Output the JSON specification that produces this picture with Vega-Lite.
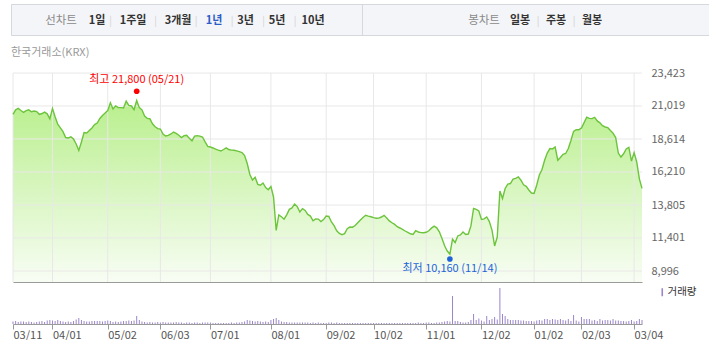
{
  "$schema": "https://vega.github.io/schema/vega-lite/v6.json",
  "background": "#ffffff",
  "padding": {"left": 10, "top": 3, "right": 0, "bottom": 0},
  "spacing": 11,
  "config": {
    "view": {"stroke": null},
    "font": "Noto Sans CJK KR"
  },
  "datasets": {
    "toolbar": [
      {"key": "선차트", "label": "선차트", "kind": "head"},
      {"key": "1일", "label": "1일", "kind": "item"},
      {"key": "s1", "label": "|", "kind": "sep"},
      {"key": "1주일", "label": "1주일", "kind": "item"},
      {"key": "s2", "label": "|", "kind": "sep"},
      {"key": "3개월", "label": "3개월", "kind": "item"},
      {"key": "s3", "label": "|", "kind": "sep"},
      {"key": "1년", "label": "1년", "kind": "active"},
      {"key": "s4", "label": "|", "kind": "sep"},
      {"key": "3년", "label": "3년", "kind": "item"},
      {"key": "s5", "label": "|", "kind": "sep"},
      {"key": "5년", "label": "5년", "kind": "item"},
      {"key": "s6", "label": "|", "kind": "sep"},
      {"key": "10년", "label": "10년", "kind": "item"},
      {"key": "div", "label": "", "kind": "div"},
      {"key": "봉차트", "label": "봉차트", "kind": "head"},
      {"key": "일봉", "label": "일봉", "kind": "item"},
      {"key": "s7", "label": "|", "kind": "sep"},
      {"key": "주봉", "label": "주봉", "kind": "item"},
      {"key": "s8", "label": "|", "kind": "sep"},
      {"key": "월봉", "label": "월봉", "kind": "item"}
    ],
    "xticks": [
      {"date": "2024-03-11"}, {"date": "2024-04-01"}, {"date": "2024-05-02"}, {"date": "2024-06-03"},
      {"date": "2024-07-01"}, {"date": "2024-08-01"}, {"date": "2024-09-02"}, {"date": "2024-10-02"},
      {"date": "2024-11-01"}, {"date": "2024-12-02"}, {"date": "2025-01-02"}, {"date": "2025-02-03"},
      {"date": "2025-03-04"}
    ],
    "yticks": [
      {"v": 8996}, {"v": 11401}, {"v": 13805}, {"v": 16210}, {"v": 18614}, {"v": 21019}, {"v": 23423}
    ],
    "extremes": [
      {"date": "2024-05-21", "value": 21800, "label": "최고 21,800 (05/21)", "kind": "high"},
      {"date": "2024-11-14", "value": 10160, "label": "최저 10,160 (11/14)", "kind": "low"}
    ],
    "price": [
      {"date": "2024-03-11", "close": 20410, "volume": 250000},
      {"date": "2024-03-12", "close": 20740, "volume": 300000},
      {"date": "2024-03-13", "close": 20840, "volume": 200000},
      {"date": "2024-03-14", "close": 20690, "volume": 250000},
      {"date": "2024-03-15", "close": 20550, "volume": 250000},
      {"date": "2024-03-18", "close": 20680, "volume": 200000},
      {"date": "2024-03-19", "close": 20740, "volume": 250000},
      {"date": "2024-03-20", "close": 20600, "volume": 200000},
      {"date": "2024-03-21", "close": 20650, "volume": 150000},
      {"date": "2024-03-22", "close": 20610, "volume": 200000},
      {"date": "2024-03-25", "close": 20410, "volume": 250000},
      {"date": "2024-03-26", "close": 20470, "volume": 300000},
      {"date": "2024-03-27", "close": 20570, "volume": 200000},
      {"date": "2024-03-28", "close": 20450, "volume": 350000},
      {"date": "2024-03-29", "close": 20090, "volume": 400000},
      {"date": "2024-04-01", "close": 20840, "volume": 350000},
      {"date": "2024-04-02", "close": 20230, "volume": 300000},
      {"date": "2024-04-03", "close": 19690, "volume": 400000},
      {"date": "2024-04-04", "close": 19430, "volume": 300000},
      {"date": "2024-04-05", "close": 19150, "volume": 250000},
      {"date": "2024-04-08", "close": 18720, "volume": 200000},
      {"date": "2024-04-09", "close": 18690, "volume": 250000},
      {"date": "2024-04-11", "close": 18770, "volume": 200000},
      {"date": "2024-04-12", "close": 18610, "volume": 300000},
      {"date": "2024-04-15", "close": 18250, "volume": 450000},
      {"date": "2024-04-16", "close": 17780, "volume": 600000},
      {"date": "2024-04-17", "close": 18400, "volume": 400000},
      {"date": "2024-04-18", "close": 19090, "volume": 300000},
      {"date": "2024-04-19", "close": 19050, "volume": 250000},
      {"date": "2024-04-22", "close": 19230, "volume": 250000},
      {"date": "2024-04-23", "close": 19420, "volume": 300000},
      {"date": "2024-04-24", "close": 19660, "volume": 300000},
      {"date": "2024-04-25", "close": 19780, "volume": 300000},
      {"date": "2024-04-26", "close": 20110, "volume": 300000},
      {"date": "2024-04-29", "close": 20330, "volume": 250000},
      {"date": "2024-04-30", "close": 20510, "volume": 300000},
      {"date": "2024-05-02", "close": 20680, "volume": 350000},
      {"date": "2024-05-03", "close": 21250, "volume": 300000},
      {"date": "2024-05-07", "close": 20800, "volume": 200000},
      {"date": "2024-05-08", "close": 21030, "volume": 250000},
      {"date": "2024-05-09", "close": 20900, "volume": 200000},
      {"date": "2024-05-10", "close": 20900, "volume": 250000},
      {"date": "2024-05-13", "close": 20880, "volume": 300000},
      {"date": "2024-05-14", "close": 21370, "volume": 300000},
      {"date": "2024-05-16", "close": 21060, "volume": 350000},
      {"date": "2024-05-17", "close": 21020, "volume": 300000},
      {"date": "2024-05-20", "close": 20750, "volume": 350000},
      {"date": "2024-05-21", "close": 21420, "volume": 800000},
      {"date": "2024-05-22", "close": 20900, "volume": 400000},
      {"date": "2024-05-23", "close": 20740, "volume": 250000},
      {"date": "2024-05-24", "close": 20280, "volume": 200000},
      {"date": "2024-05-27", "close": 20120, "volume": 150000},
      {"date": "2024-05-28", "close": 20090, "volume": 200000},
      {"date": "2024-05-29", "close": 19720, "volume": 150000},
      {"date": "2024-05-30", "close": 19510, "volume": 150000},
      {"date": "2024-05-31", "close": 19370, "volume": 200000},
      {"date": "2024-06-03", "close": 19340, "volume": 150000},
      {"date": "2024-06-04", "close": 18980, "volume": 200000},
      {"date": "2024-06-05", "close": 18830, "volume": 150000},
      {"date": "2024-06-07", "close": 18880, "volume": 150000},
      {"date": "2024-06-10", "close": 18980, "volume": 150000},
      {"date": "2024-06-11", "close": 19120, "volume": 150000},
      {"date": "2024-06-12", "close": 19020, "volume": 200000},
      {"date": "2024-06-13", "close": 18890, "volume": 150000},
      {"date": "2024-06-14", "close": 18720, "volume": 150000},
      {"date": "2024-06-17", "close": 18860, "volume": 100000},
      {"date": "2024-06-18", "close": 18890, "volume": 150000},
      {"date": "2024-06-19", "close": 18660, "volume": 150000},
      {"date": "2024-06-20", "close": 18480, "volume": 100000},
      {"date": "2024-06-21", "close": 18820, "volume": 150000},
      {"date": "2024-06-24", "close": 18860, "volume": 150000},
      {"date": "2024-06-25", "close": 18820, "volume": 100000},
      {"date": "2024-06-26", "close": 18760, "volume": 150000},
      {"date": "2024-06-27", "close": 18400, "volume": 150000},
      {"date": "2024-06-28", "close": 18080, "volume": 150000},
      {"date": "2024-07-01", "close": 18030, "volume": 150000},
      {"date": "2024-07-02", "close": 17960, "volume": 100000},
      {"date": "2024-07-03", "close": 17870, "volume": 100000},
      {"date": "2024-07-04", "close": 17800, "volume": 100000},
      {"date": "2024-07-05", "close": 17740, "volume": 100000},
      {"date": "2024-07-08", "close": 17850, "volume": 100000},
      {"date": "2024-07-09", "close": 17970, "volume": 100000},
      {"date": "2024-07-10", "close": 17850, "volume": 100000},
      {"date": "2024-07-11", "close": 17800, "volume": 150000},
      {"date": "2024-07-12", "close": 17790, "volume": 100000},
      {"date": "2024-07-15", "close": 17750, "volume": 150000},
      {"date": "2024-07-16", "close": 17690, "volume": 150000},
      {"date": "2024-07-17", "close": 17630, "volume": 200000},
      {"date": "2024-07-18", "close": 17410, "volume": 250000},
      {"date": "2024-07-19", "close": 16830, "volume": 400000},
      {"date": "2024-07-22", "close": 16030, "volume": 350000},
      {"date": "2024-07-23", "close": 15630, "volume": 300000},
      {"date": "2024-07-24", "close": 15830, "volume": 250000},
      {"date": "2024-07-25", "close": 15310, "volume": 300000},
      {"date": "2024-07-26", "close": 15250, "volume": 250000},
      {"date": "2024-07-29", "close": 15410, "volume": 200000},
      {"date": "2024-07-30", "close": 15080, "volume": 250000},
      {"date": "2024-07-31", "close": 14920, "volume": 200000},
      {"date": "2024-08-01", "close": 15150, "volume": 400000},
      {"date": "2024-08-02", "close": 14390, "volume": 500000},
      {"date": "2024-08-05", "close": 11960, "volume": 600000},
      {"date": "2024-08-06", "close": 13080, "volume": 400000},
      {"date": "2024-08-07", "close": 12950, "volume": 250000},
      {"date": "2024-08-08", "close": 12770, "volume": 200000},
      {"date": "2024-08-09", "close": 13090, "volume": 200000},
      {"date": "2024-08-12", "close": 13490, "volume": 150000},
      {"date": "2024-08-13", "close": 13590, "volume": 150000},
      {"date": "2024-08-14", "close": 13880, "volume": 150000},
      {"date": "2024-08-16", "close": 13690, "volume": 150000},
      {"date": "2024-08-19", "close": 13300, "volume": 150000},
      {"date": "2024-08-20", "close": 13540, "volume": 150000},
      {"date": "2024-08-21", "close": 13410, "volume": 150000},
      {"date": "2024-08-22", "close": 13120, "volume": 150000},
      {"date": "2024-08-23", "close": 13000, "volume": 100000},
      {"date": "2024-08-26", "close": 12660, "volume": 150000},
      {"date": "2024-08-27", "close": 12790, "volume": 100000},
      {"date": "2024-08-28", "close": 12780, "volume": 150000},
      {"date": "2024-08-29", "close": 12600, "volume": 100000},
      {"date": "2024-08-30", "close": 12740, "volume": 100000},
      {"date": "2024-09-02", "close": 13000, "volume": 100000},
      {"date": "2024-09-03", "close": 12970, "volume": 150000},
      {"date": "2024-09-04", "close": 12570, "volume": 150000},
      {"date": "2024-09-05", "close": 12300, "volume": 100000},
      {"date": "2024-09-06", "close": 11930, "volume": 150000},
      {"date": "2024-09-09", "close": 11730, "volume": 100000},
      {"date": "2024-09-10", "close": 11640, "volume": 100000},
      {"date": "2024-09-11", "close": 11720, "volume": 100000},
      {"date": "2024-09-12", "close": 12080, "volume": 100000},
      {"date": "2024-09-13", "close": 12200, "volume": 100000},
      {"date": "2024-09-19", "close": 12190, "volume": 100000},
      {"date": "2024-09-20", "close": 12310, "volume": 100000},
      {"date": "2024-09-23", "close": 12510, "volume": 100000},
      {"date": "2024-09-24", "close": 12710, "volume": 100000},
      {"date": "2024-09-25", "close": 12900, "volume": 100000},
      {"date": "2024-09-26", "close": 13060, "volume": 100000},
      {"date": "2024-09-27", "close": 13000, "volume": 100000},
      {"date": "2024-09-30", "close": 12950, "volume": 100000},
      {"date": "2024-10-02", "close": 12880, "volume": 100000},
      {"date": "2024-10-04", "close": 12840, "volume": 100000},
      {"date": "2024-10-07", "close": 12850, "volume": 100000},
      {"date": "2024-10-08", "close": 12930, "volume": 100000},
      {"date": "2024-10-10", "close": 13050, "volume": 100000},
      {"date": "2024-10-11", "close": 12860, "volume": 100000},
      {"date": "2024-10-14", "close": 12650, "volume": 100000},
      {"date": "2024-10-15", "close": 12510, "volume": 100000},
      {"date": "2024-10-16", "close": 12390, "volume": 100000},
      {"date": "2024-10-17", "close": 12220, "volume": 100000},
      {"date": "2024-10-18", "close": 12130, "volume": 100000},
      {"date": "2024-10-21", "close": 12030, "volume": 100000},
      {"date": "2024-10-22", "close": 11910, "volume": 100000},
      {"date": "2024-10-23", "close": 11810, "volume": 100000},
      {"date": "2024-10-24", "close": 11710, "volume": 100000},
      {"date": "2024-10-25", "close": 11660, "volume": 100000},
      {"date": "2024-10-28", "close": 11930, "volume": 100000},
      {"date": "2024-10-29", "close": 11840, "volume": 150000},
      {"date": "2024-10-30", "close": 11790, "volume": 100000},
      {"date": "2024-10-31", "close": 11780, "volume": 100000},
      {"date": "2024-11-01", "close": 11820, "volume": 150000},
      {"date": "2024-11-04", "close": 11930, "volume": 150000},
      {"date": "2024-11-05", "close": 12120, "volume": 100000},
      {"date": "2024-11-06", "close": 12260, "volume": 100000},
      {"date": "2024-11-07", "close": 12140, "volume": 150000},
      {"date": "2024-11-08", "close": 11850, "volume": 150000},
      {"date": "2024-11-11", "close": 11370, "volume": 200000},
      {"date": "2024-11-12", "close": 10830, "volume": 250000},
      {"date": "2024-11-13", "close": 10450, "volume": 300000},
      {"date": "2024-11-14", "close": 10230, "volume": 250000},
      {"date": "2024-11-15", "close": 11310, "volume": 2800000},
      {"date": "2024-11-18", "close": 11070, "volume": 300000},
      {"date": "2024-11-19", "close": 11550, "volume": 300000},
      {"date": "2024-11-20", "close": 11620, "volume": 200000},
      {"date": "2024-11-21", "close": 11840, "volume": 150000},
      {"date": "2024-11-22", "close": 11660, "volume": 150000},
      {"date": "2024-11-25", "close": 11690, "volume": 200000},
      {"date": "2024-11-26", "close": 12280, "volume": 400000},
      {"date": "2024-11-27", "close": 13550, "volume": 1000000},
      {"date": "2024-11-28", "close": 13480, "volume": 400000},
      {"date": "2024-11-29", "close": 13370, "volume": 550000},
      {"date": "2024-12-02", "close": 12760, "volume": 350000},
      {"date": "2024-12-03", "close": 12790, "volume": 250000},
      {"date": "2024-12-04", "close": 12930, "volume": 800000},
      {"date": "2024-12-05", "close": 12600, "volume": 400000},
      {"date": "2024-12-06", "close": 11980, "volume": 500000},
      {"date": "2024-12-09", "close": 10820, "volume": 700000},
      {"date": "2024-12-10", "close": 11470, "volume": 450000},
      {"date": "2024-12-11", "close": 14830, "volume": 3600000},
      {"date": "2024-12-12", "close": 14280, "volume": 1000000},
      {"date": "2024-12-13", "close": 15010, "volume": 800000},
      {"date": "2024-12-16", "close": 15330, "volume": 500000},
      {"date": "2024-12-17", "close": 15370, "volume": 400000},
      {"date": "2024-12-18", "close": 15690, "volume": 400000},
      {"date": "2024-12-19", "close": 15740, "volume": 400000},
      {"date": "2024-12-20", "close": 15850, "volume": 400000},
      {"date": "2024-12-23", "close": 15610, "volume": 350000},
      {"date": "2024-12-24", "close": 15280, "volume": 350000},
      {"date": "2024-12-26", "close": 15170, "volume": 300000},
      {"date": "2024-12-27", "close": 14900, "volume": 300000},
      {"date": "2024-12-30", "close": 14680, "volume": 300000},
      {"date": "2025-01-02", "close": 14640, "volume": 250000},
      {"date": "2025-01-03", "close": 15260, "volume": 350000},
      {"date": "2025-01-06", "close": 15990, "volume": 400000},
      {"date": "2025-01-07", "close": 16390, "volume": 350000},
      {"date": "2025-01-08", "close": 17070, "volume": 500000},
      {"date": "2025-01-09", "close": 17590, "volume": 500000},
      {"date": "2025-01-10", "close": 17920, "volume": 400000},
      {"date": "2025-01-13", "close": 17890, "volume": 500000},
      {"date": "2025-01-14", "close": 18030, "volume": 450000},
      {"date": "2025-01-15", "close": 17070, "volume": 400000},
      {"date": "2025-01-16", "close": 17270, "volume": 500000},
      {"date": "2025-01-17", "close": 17500, "volume": 400000},
      {"date": "2025-01-20", "close": 17560, "volume": 350000},
      {"date": "2025-01-21", "close": 17920, "volume": 500000},
      {"date": "2025-01-22", "close": 18500, "volume": 300000},
      {"date": "2025-01-23", "close": 19170, "volume": 900000},
      {"date": "2025-01-24", "close": 19300, "volume": 350000},
      {"date": "2025-01-31", "close": 19290, "volume": 250000},
      {"date": "2025-02-03", "close": 19420, "volume": 700000},
      {"date": "2025-02-04", "close": 19810, "volume": 500000},
      {"date": "2025-02-05", "close": 20200, "volume": 500000},
      {"date": "2025-02-06", "close": 20120, "volume": 500000},
      {"date": "2025-02-07", "close": 20100, "volume": 350000},
      {"date": "2025-02-10", "close": 20190, "volume": 400000},
      {"date": "2025-02-11", "close": 19930, "volume": 300000},
      {"date": "2025-02-12", "close": 19790, "volume": 500000},
      {"date": "2025-02-13", "close": 19580, "volume": 350000},
      {"date": "2025-02-14", "close": 19490, "volume": 400000},
      {"date": "2025-02-17", "close": 19440, "volume": 400000},
      {"date": "2025-02-18", "close": 19230, "volume": 350000},
      {"date": "2025-02-19", "close": 19040, "volume": 500000},
      {"date": "2025-02-20", "close": 18720, "volume": 350000},
      {"date": "2025-02-21", "close": 17590, "volume": 350000},
      {"date": "2025-02-24", "close": 17300, "volume": 300000},
      {"date": "2025-02-25", "close": 17540, "volume": 300000},
      {"date": "2025-02-26", "close": 17890, "volume": 250000},
      {"date": "2025-02-27", "close": 18000, "volume": 300000},
      {"date": "2025-02-28", "close": 17010, "volume": 400000},
      {"date": "2025-03-04", "close": 17620, "volume": 250000},
      {"date": "2025-03-05", "close": 16940, "volume": 300000},
      {"date": "2025-03-06", "close": 15710, "volume": 500000},
      {"date": "2025-03-07", "close": 15020, "volume": 400000}
    ]
  },
  "vconcat": [
    {
      "width": 698,
      "height": 31,
      "view": {"fill": "#f4f5f8", "stroke": "#d5d8dd"},
      "data": {"name": "toolbar"},
      "encoding": {
        "x": {
          "field": "key",
          "type": "nominal",
          "axis": null,
          "scale": {
            "type": "point",
            "padding": 0,
            "range": [50, 581],
            "domain": ["선차트","q1","q2","q3","q4","q5","q6","q7","1일","q9","q10","s1","q12","q13","q14","q15","1주일","q17","q18","q19","q20","s2","q22","q23","q24","q25","3개월","q27","q28","q29","s3","q31","q32","q33","1년","q35","q36","q37","s4","q39","q40","3년","q42","q43","q44","s5","q46","q47","5년","q49","q50","q51","s6","q53","q54","q55","10년","q57","q58","q59","q60","q61","q62","q63","q64","q65","q66","div","q68","q69","q70","q71","q72","q73","q74","q75","q76","q77","q78","q79","q80","q81","q82","q83","q84","q85","q86","q87","q88","q89","q90","q91","q92","q93","봉차트","q95","q96","q97","q98","q99","q100","q101","일봉","q103","q104","q105","s7","q107","q108","q109","주봉","q111","q112","q113","s8","q115","q116","q117","월봉"]
          }
        }
      },
      "layer": [
        {
          "transform": [{"filter": "datum.kind === 'div'"}],
          "mark": {"type": "rule", "color": "#d5d8dd"},
          "encoding": {}
        },
        {
          "transform": [{"filter": "datum.kind === 'head'"}],
          "mark": {"type": "text", "fontSize": 11.5, "color": "#8a8a8a", "dy": 1},
          "encoding": {"text": {"field": "label"}}
        },
        {
          "transform": [{"filter": "datum.kind === 'item'"}],
          "mark": {"type": "text", "fontSize": 11, "fontWeight": "bold", "color": "#333333", "dy": 1},
          "encoding": {"text": {"field": "label"}}
        },
        {
          "transform": [{"filter": "datum.kind === 'active'"}],
          "mark": {"type": "text", "fontSize": 11, "fontWeight": "bold", "color": "#2d5ec8", "dy": 1},
          "encoding": {"text": {"field": "label"}}
        },
        {
          "transform": [{"filter": "datum.kind === 'sep'"}],
          "mark": {"type": "text", "fontSize": 10, "color": "#d2d2d2", "dy": 1},
          "encoding": {"text": {"field": "label"}}
        }
      ]
    },
    {
      "width": 698,
      "height": 251,
      "title": {"text": "한국거래소(KRX)", "anchor": "start", "frame": "group", "fontSize": 11, "fontWeight": "normal", "color": "#999999", "offset": 9},
      "resolve": {"scale": {"y": "independent"}, "axis": {"x": "independent", "y": "independent"}},
      "layer": [
        {
          "data": {"name": "price"},
          "mark": {
            "type": "area",
            "color": {"x1": 0, "y1": 0, "x2": 0, "y2": 1, "gradient": "linear", "stops": [{"offset": 0, "color": "#b9ef8d"}, {"offset": 1, "color": "#f8fdf4"}]}
          },
          "encoding": {
            "x": {
              "field": "date", "type": "ordinal",
              "scale": {"type": "point", "range": [2, 631], "padding": 0},
              "axis": {"orient": "top", "offset": -209, "labels": false, "ticks": false, "domain": true, "domainColor": "#9a9a9a", "grid": false, "title": null}
            },
            "y": {
              "field": "close", "type": "quantitative",
              "scale": {"domain": [8195, 23423], "range": [209, 0], "nice": false, "zero": false},
              "axis": {"orient": "right", "offset": -63, "values": [8996, 11401, 13805, 16210, 18614, 21019, 23423], "format": ",d", "ticks": false, "domain": false, "grid": false, "labels": true, "labelPadding": 5, "labelColor": "#666666", "labelFontSize": 11, "title": null}
            },
            "y2": {"datum": 8195}
          }
        },
        {
          "data": {"name": "yticks"},
          "mark": {"type": "rule", "color": "#e8e8e8", "strokeWidth": 1},
          "encoding": {
            "y": {"field": "v", "type": "quantitative", "axis": null, "scale": {"domain": [8195, 23423], "range": [209, 0], "nice": false, "zero": false}},
            "x": {"datum": "2024-03-11", "type": "ordinal", "axis": null},
            "x2": {"datum": "2025-03-07"}
          }
        },
        {
          "data": {"name": "xticks"},
          "mark": {"type": "rule", "color": "#e8e8e8", "strokeWidth": 1},
          "encoding": {
            "x": {"field": "date", "type": "ordinal", "axis": null},
            "y": {"datum": 23423, "type": "quantitative", "axis": null, "scale": {"domain": [8195, 23423], "range": [209, 0], "nice": false, "zero": false}},
            "y2": {"datum": 8195}
          }
        },
        {
          "data": {"name": "price"},
          "mark": {"type": "line", "color": "#6cc43c", "strokeWidth": 1.4},
          "encoding": {
            "x": {"field": "date", "type": "ordinal", "axis": null},
            "y": {"field": "close", "type": "quantitative", "axis": null, "scale": {"domain": [8195, 23423], "range": [209, 0], "nice": false, "zero": false}}
          }
        },
        {
          "data": {"name": "extremes"},
          "transform": [{"filter": "datum.kind === 'high'"}],
          "mark": {"type": "point", "filled": true, "opacity": 1, "color": "#ff0000", "size": 32, "yOffset": -4},
          "encoding": {
            "x": {"field": "date", "type": "ordinal", "axis": null},
            "y": {"field": "value", "type": "quantitative", "axis": null, "scale": {"domain": [8195, 23423], "range": [209, 0], "nice": false, "zero": false}}
          }
        },
        {
          "data": {"name": "extremes"},
          "transform": [{"filter": "datum.kind === 'high'"}],
          "mark": {"type": "text", "color": "#ff0000", "fontSize": 11, "dy": -15},
          "encoding": {
            "x": {"field": "date", "type": "ordinal", "axis": null},
            "y": {"field": "value", "type": "quantitative", "axis": null, "scale": {"domain": [8195, 23423], "range": [209, 0], "nice": false, "zero": false}},
            "text": {"field": "label"}
          }
        },
        {
          "data": {"name": "extremes"},
          "transform": [{"filter": "datum.kind === 'low'"}],
          "mark": {"type": "point", "filled": true, "opacity": 1, "color": "#1e64d8", "size": 32, "yOffset": 4},
          "encoding": {
            "x": {"field": "date", "type": "ordinal", "axis": null},
            "y": {"field": "value", "type": "quantitative", "axis": null, "scale": {"domain": [8195, 23423], "range": [209, 0], "nice": false, "zero": false}}
          }
        },
        {
          "data": {"name": "extremes"},
          "transform": [{"filter": "datum.kind === 'low'"}],
          "mark": {"type": "text", "color": "#1e64d8", "fontSize": 11, "dy": 14},
          "encoding": {
            "x": {"field": "date", "type": "ordinal", "axis": null},
            "y": {"field": "value", "type": "quantitative", "axis": null, "scale": {"domain": [8195, 23423], "range": [209, 0], "nice": false, "zero": false}},
            "text": {"field": "label"}
          }
        },
        {
          "data": {"name": "price"},
          "mark": {"type": "bar", "width": 1},
          "encoding": {
            "x": {
              "field": "date", "type": "ordinal",
              "axis": {
                "orient": "bottom",
                "values": ["2024-03-11","2024-04-01","2024-05-02","2024-06-03","2024-07-01","2024-08-01","2024-09-02","2024-10-02","2024-11-01","2024-12-02","2025-01-02","2025-02-03","2025-03-04"],
                "labelExpr": "substring(datum.value,5,7) + '/' + substring(datum.value,8,10)",
                "labelAlign": "left", "labelBaseline": "top", "labelPadding": 0,
                "tickSize": 5, "tickColor": "#9a9a9a", "domainColor": "#9a9a9a",
                "labelColor": "#555555", "labelFontSize": 11, "grid": false, "title": null,
                "labelOverlap": false, "labelBound": false, "labelAngle": 0
              }
            },
            "y": {
              "field": "volume", "type": "quantitative",
              "scale": {"domain": [0, 3600000], "range": [251, 215], "nice": false},
              "axis": null
            },
            "color": {
              "datum": "거래량", "type": "nominal",
              "scale": {"range": ["#9b86cc"]},
              "legend": {"orient": "none", "legendX": 646, "legendY": 283, "title": null, "padding": 0, "symbolType": "M-0.2,-1H0.2V1H-0.2Z", "symbolSize": 64, "symbolStrokeWidth": 0, "labelFontSize": 10.5, "labelColor": "#333333", "labelOffset": 0}
            }
          }
        }
      ]
    }
  ]
}
